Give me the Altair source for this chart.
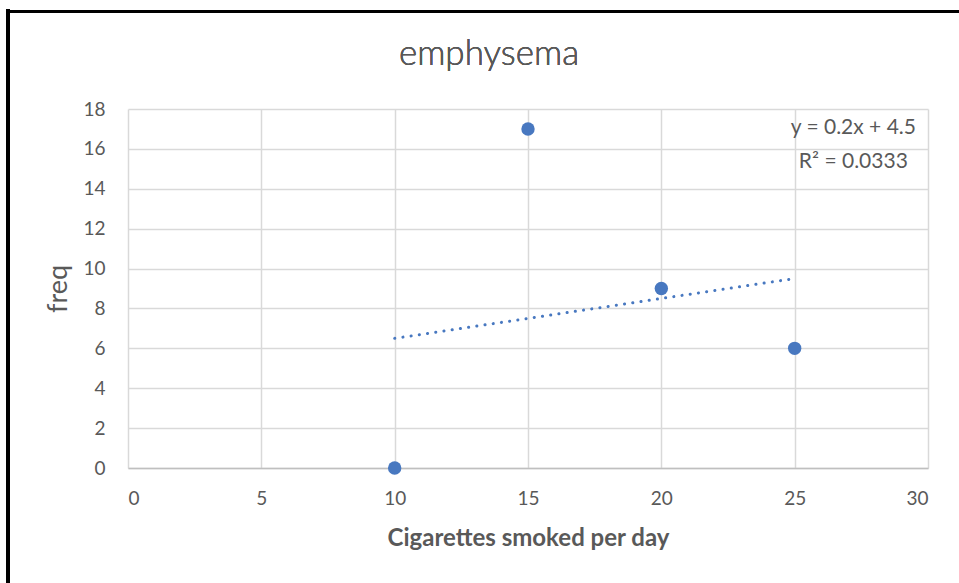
import altair as alt
import numpy as np
import pandas as pd

# Observations: cigarettes smoked per day vs. emphysema frequency
cigarettes = [10, 15, 20, 25]
freq = [0, 17, 9, 6]

x_ticks = [0, 5, 10, 15, 20, 25, 30]
y_ticks = [0, 2, 4, 6, 8, 10, 12, 14, 16, 18]

# Least-squares trendline
x_arr = np.array(cigarettes, dtype=float)
y_arr = np.array(freq, dtype=float)
slope, intercept = np.polyfit(x_arr, y_arr, 1)
r2 = np.corrcoef(x_arr, y_arr)[0, 1] ** 2

points = pd.DataFrame({"x": cigarettes, "y": freq})
trend = pd.DataFrame({
    "x": [min(cigarettes), max(cigarettes)],
    "y": [slope * min(cigarettes) + intercept, slope * max(cigarettes) + intercept],
})
labels = pd.DataFrame({
    "x": [27.2, 27.2],
    "y": [17.05, 15.35],
    "t": [f"y = {slope:.1f}x + {intercept:.1f}", f"R\u00b2 = {r2:.4f}"],
})

FONT = "Lato"
GREY = "#595959"
BLUE = "#4878C0"
W, H = 800, 359
PAD = {"left": 128, "top": 109, "right": 31, "bottom": 115}

x_scale = alt.Scale(domain=[0, 30], nice=False)
y_scale = alt.Scale(domain=[0, 18], nice=False)

x_axis = alt.Axis(
    values=x_ticks, title="Cigarettes smoked per day", grid=True, ticks=False,
    tickSize=0, labelPadding=21, titlePadding=18, titleFontWeight="bold",
    titleFontSize=24, labelFontSize=19, labelOverlap=False,
)
y_axis = alt.Axis(
    values=y_ticks, title="freq", grid=True, ticks=False, tickSize=0,
    labelPadding=23, titlePadding=10, titleFontWeight="normal",
    titleFontSize=27, labelFontSize=19, domain=False, labelOverlap=False,
)

X = alt.X("x:Q", scale=x_scale, axis=x_axis)
Y = alt.Y("y:Q", scale=y_scale, axis=y_axis)

line = alt.Chart(trend).mark_line(
    color=BLUE, strokeWidth=3, strokeCap="round", strokeDash=[0.1, 8.2]
).encode(x=X, y=Y)

pts = alt.Chart(points).mark_circle(size=180, opacity=1, color=BLUE).encode(x=X, y=Y)

eq = alt.Chart(labels).mark_text(
    fontSize=21, font=FONT, color=GREY, align="center", baseline="middle"
).encode(x=X, y=Y, text="t:N")

# Chart title, drawn as text above the plot area
title = alt.Chart(points).mark_text(
    text="emphysema", fontSize=35, font=FONT, fontWeight=300, color=GREY,
    align="center", baseline="alphabetic",
).encode(x=alt.value(361), y=alt.value(-44))

# Frame lines around the chart area
frame_left = alt.Chart(points).mark_rule(color="black", strokeWidth=4).encode(
    x=alt.value(-120), y=alt.value(-100), y2=alt.value(H + PAD["bottom"] + 5)
)
frame_top = alt.Chart(points).mark_rule(color="black", strokeWidth=3).encode(
    x=alt.value(-122), x2=alt.value(W + PAD["right"] + 5), y=alt.value(-97.5)
)

chart = alt.layer(line, pts, eq, title, frame_left, frame_top).properties(
    width=W, height=H,
    autosize=alt.AutoSizeParams(type="none"),
    padding=PAD,
    background="white",
).configure_view(stroke=None).configure_axis(
    labelFont=FONT, titleFont=FONT, labelColor=GREY, titleColor=GREY,
    gridColor="#d9d9d9", gridWidth=1.5, domainColor="#bfbfbf", domainWidth=1.5,
)

chart.save("out.html", embed_options={"renderer": "svg", "actions": False})
